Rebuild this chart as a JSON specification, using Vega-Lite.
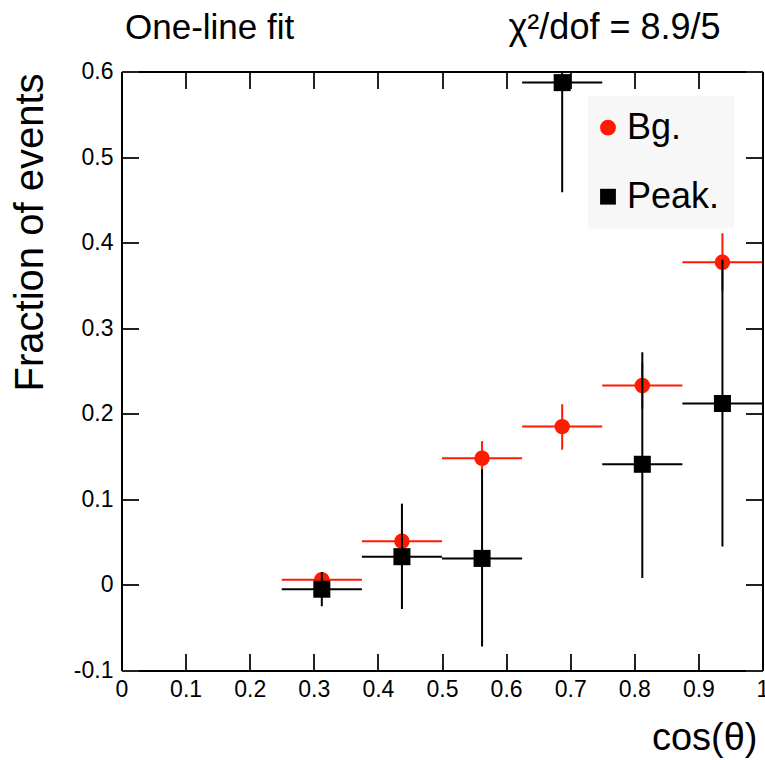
{
  "$schema": "https://vega.github.io/schema/vega-lite/v6.json",
  "width": 641,
  "height": 599,
  "autosize": "none",
  "padding": {"left": 121.5, "top": 71.5, "right": 2.5, "bottom": 89.5},
  "background": "white",
  "config": {
    "font": "Liberation Sans",
    "view": {"stroke": null},
    "axis": {
      "grid": false,
      "domainColor": "#000000",
      "domainWidth": 2,
      "tickColor": "#222222",
      "tickWidth": 2,
      "tickSize": -17,
      "labelFont": "Liberation Sans",
      "labelFontSize": 23,
      "labelColor": "#000000",
      "labelFlush": false,
      "labelOverlap": false,
      "titleFont": "Liberation Sans",
      "titleFontWeight": "normal",
      "titleColor": "#000000"
    },
    "legend": {
      "orient": "none",
      "legendX": 466.5,
      "legendY": 24.2,
      "fillColor": "#f7f7f7",
      "padding": 14,
      "labelFontSize": 36,
      "labelFont": "Liberation Sans",
      "labelColor": "#000000",
      "labelOffset": 1,
      "symbolOffset": -12,
      "rowPadding": 33,
      "symbolSize": 250,
      "symbolStrokeWidth": 0
    }
  },
  "title": {
    "text": "One-line fit",
    "anchor": "start",
    "frame": "group",
    "font": "Liberation Sans",
    "fontSize": 35,
    "fontWeight": "normal",
    "color": "#000000",
    "baseline": "alphabetic",
    "dx": 3.5,
    "offset": -65
  },
  "data": {
    "values": [
      {"sample": "Bg.", "cos": 0.3125, "xlo": 0.25, "xhi": 0.375, "y": 0.006, "ylo": 0.001, "yhi": 0.011},
      {"sample": "Bg.", "cos": 0.4375, "xlo": 0.375, "xhi": 0.5, "y": 0.051, "ylo": 0.039, "yhi": 0.063},
      {"sample": "Bg.", "cos": 0.5625, "xlo": 0.5, "xhi": 0.625, "y": 0.148, "ylo": 0.128, "yhi": 0.168},
      {"sample": "Bg.", "cos": 0.6875, "xlo": 0.625, "xhi": 0.75, "y": 0.185, "ylo": 0.158, "yhi": 0.211},
      {"sample": "Bg.", "cos": 0.8125, "xlo": 0.75, "xhi": 0.875, "y": 0.233, "ylo": 0.206, "yhi": 0.26},
      {"sample": "Bg.", "cos": 0.9375, "xlo": 0.875, "xhi": 1.0, "y": 0.377, "ylo": 0.344, "yhi": 0.411},
      {"sample": "Peak.", "cos": 0.3125, "xlo": 0.25, "xhi": 0.375, "y": -0.005, "ylo": -0.025, "yhi": 0.015},
      {"sample": "Peak.", "cos": 0.4375, "xlo": 0.375, "xhi": 0.5, "y": 0.033, "ylo": -0.028, "yhi": 0.095},
      {"sample": "Peak.", "cos": 0.5625, "xlo": 0.5, "xhi": 0.625, "y": 0.031, "ylo": -0.072, "yhi": 0.135},
      {"sample": "Peak.", "cos": 0.6875, "xlo": 0.625, "xhi": 0.75, "y": 0.587, "ylo": 0.459, "yhi": 0.715},
      {"sample": "Peak.", "cos": 0.8125, "xlo": 0.75, "xhi": 0.875, "y": 0.141, "ylo": 0.008, "yhi": 0.272},
      {"sample": "Peak.", "cos": 0.9375, "xlo": 0.875, "xhi": 1.0, "y": 0.212, "ylo": 0.045, "yhi": 0.38}
    ]
  },
  "resolve": {"axis": {"x": "independent", "y": "independent"}},
  "layer": [
    {
      "transform": [{"filter": "datum.sample === 'Bg.'"}],
      "mark": {"type": "rule", "strokeWidth": 2, "clip": true, "color": "#ff1a00"},
      "encoding": {
        "x": {
          "field": "xlo", "type": "quantitative",
          "scale": {"domain": [0, 1], "nice": false, "zero": false},
          "axis": {
            "orient": "bottom",
            "values": [0, 0.1, 0.2, 0.3, 0.4, 0.5, 0.6, 0.7, 0.8, 0.9, 1],
            "labelExpr": "format(datum.value, '~g')",
            "labelPadding": 24.5,
            "title": "cos(θ)",
            "titleFontSize": 38,
            "titleAlign": "right",
            "titleBaseline": "alphabetic",
            "titleAnchor": null,
            "titleX": 635.5,
            "titleY": 78.5
          }
        },
        "x2": {"field": "xhi"},
        "y": {
          "field": "y", "type": "quantitative",
          "scale": {"domain": [-0.1, 0.6], "nice": false, "zero": false},
          "axis": {
            "orient": "left",
            "values": [-0.1, 0, 0.1, 0.2, 0.3, 0.4, 0.5, 0.6],
            "labelExpr": "datum.value < 0 ? '-' + format(-datum.value, '~g') : format(datum.value, '~g')",
            "labelPadding": 25.5,
            "title": "Fraction of events",
            "titleFontSize": 40,
            "titleAngle": -90,
            "titleAlign": "right",
            "titleBaseline": "alphabetic",
            "titleAnchor": null,
            "titleX": -79.5,
            "titleY": 1.5
          }
        }
      }
    },
    {
      "transform": [{"filter": "datum.sample === 'Bg.'"}],
      "mark": {"type": "rule", "strokeWidth": 2, "clip": true, "color": "#ff1a00"},
      "encoding": {
        "x": {
          "field": "cos", "type": "quantitative",
          "axis": {
            "orient": "top",
            "values": [0, 0.1, 0.2, 0.3, 0.4, 0.5, 0.6, 0.7, 0.8, 0.9, 1],
            "labels": false,
            "title": "χ²/dof = 8.9/5",
            "titleFontSize": 36,
            "titleAlign": "right",
            "titleBaseline": "alphabetic",
            "titleAnchor": null,
            "titleX": 598.5,
            "titleY": -33.2
          }
        },
        "y": {
          "field": "ylo", "type": "quantitative",
          "axis": {
            "orient": "right",
            "values": [-0.1, 0, 0.1, 0.2, 0.3, 0.4, 0.5, 0.6],
            "labels": false,
            "title": null
          }
        },
        "y2": {"field": "yhi"}
      }
    },
    {
      "transform": [{"filter": "datum.sample === 'Bg.'"}],
      "mark": {"type": "point", "filled": true, "opacity": 1, "size": 240},
      "encoding": {
        "x": {"field": "cos", "type": "quantitative", "axis": null},
        "y": {"field": "y", "type": "quantitative", "axis": null},
        "color": {
          "field": "sample", "type": "nominal", "title": null,
          "scale": {"domain": ["Bg.", "Peak."], "range": ["#ff1a00", "#000000"]}
        },
        "shape": {
          "field": "sample", "type": "nominal", "title": null,
          "scale": {"domain": ["Bg.", "Peak."], "range": ["circle", "square"]}
        }
      }
    },
    {
      "transform": [{"filter": "datum.sample === 'Peak.'"}],
      "mark": {"type": "rule", "strokeWidth": 2, "clip": true, "color": "#000000"},
      "encoding": {
        "x": {"field": "xlo", "type": "quantitative", "axis": null},
        "x2": {"field": "xhi"},
        "y": {"field": "y", "type": "quantitative", "axis": null}
      }
    },
    {
      "transform": [{"filter": "datum.sample === 'Peak.'"}],
      "mark": {"type": "rule", "strokeWidth": 2, "clip": true, "color": "#000000"},
      "encoding": {
        "x": {"field": "cos", "type": "quantitative", "axis": null},
        "y": {"field": "ylo", "type": "quantitative", "axis": null},
        "y2": {"field": "yhi"}
      }
    },
    {
      "transform": [{"filter": "datum.sample === 'Peak.'"}],
      "mark": {"type": "point", "filled": true, "opacity": 1, "size": 290},
      "encoding": {
        "x": {"field": "cos", "type": "quantitative", "axis": null},
        "y": {"field": "y", "type": "quantitative", "axis": null},
        "color": {"field": "sample", "type": "nominal", "title": null},
        "shape": {"field": "sample", "type": "nominal", "title": null}
      }
    }
  ]
}
